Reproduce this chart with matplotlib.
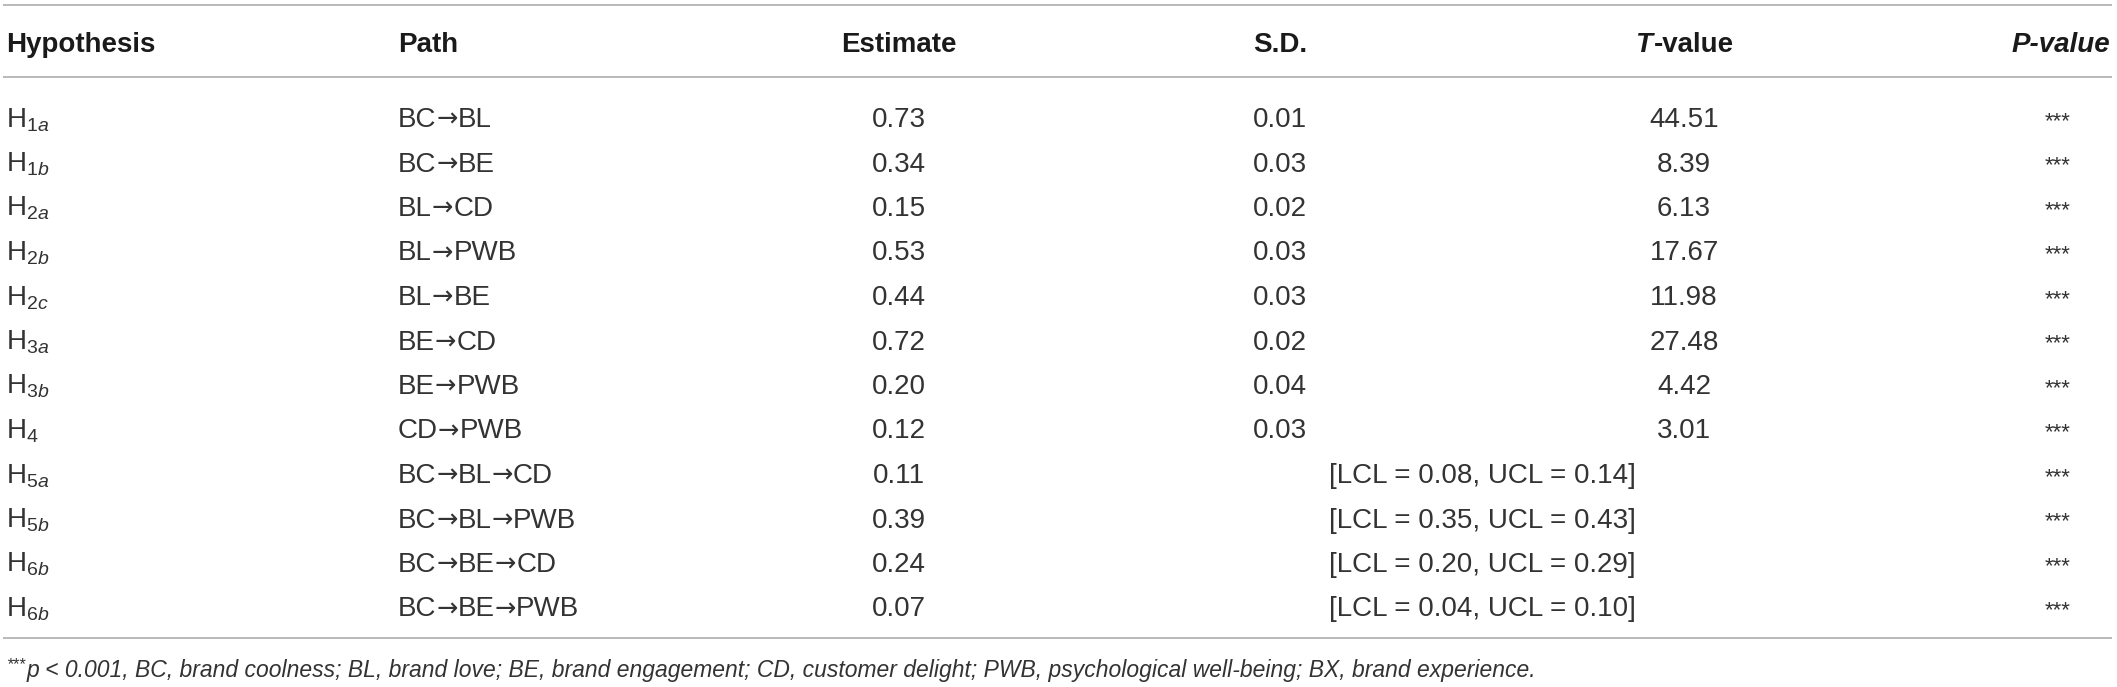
import matplotlib
matplotlib.use("Agg")
import matplotlib.pyplot as plt

# ---------------- data ----------------
hyp_num = ["1", "1", "2", "2", "2", "3", "3", "4", "5", "5", "6", "6"]
hyp_let = ["a", "b", "a", "b", "c", "a", "b", "", "a", "b", "b", "b"]
paths = ["BC→BL", "BC→BE", "BL→CD", "BL→PWB", "BL→BE", "BE→CD", "BE→PWB",
         "CD→PWB", "BC→BL→CD", "BC→BL→PWB", "BC→BE→CD", "BC→BE→PWB"]
estimates = [0.73, 0.34, 0.15, 0.53, 0.44, 0.72, 0.20, 0.12, 0.11, 0.39, 0.24, 0.07]
sds = [0.01, 0.03, 0.02, 0.03, 0.03, 0.02, 0.04, 0.03, None, None, None, None]
tvalues = [44.51, 8.39, 6.13, 17.67, 11.98, 27.48, 4.42, 3.01, None, None, None, None]
lcl = [None] * 8 + [0.08, 0.35, 0.20, 0.04]
ucl = [None] * 8 + [0.14, 0.43, 0.29, 0.10]
pvals = ["***"] * 12
headers = ["Hypothesis", "Path", "Estimate", "S.D.", "T-value", "P-value"]
footnote_mark = "***"
footnote = ("p < 0.001, BC, brand coolness; BL, brand love; BE, brand engagement; "
            "CD, customer delight; PWB, psychological well-being; BX, brand experience.")

# ---------------- style ----------------
W, H = 2117, 687
plt.rcParams["font.family"] = ["Liberation Sans", "DejaVu Sans"]
plt.rcParams["mathtext.fontset"] = "custom"
plt.rcParams["mathtext.rm"] = "Liberation Sans"
plt.rcParams["mathtext.it"] = "Liberation Sans:italic"
plt.rcParams["mathtext.bf"] = "Liberation Sans:bold"

FS = 20
FS_NOTE = 16.5
TXT = "#333333"
HDR = "#1a1a1a"
LINE = "#a6a6a6"

fig = plt.figure(figsize=(W / 100, H / 100), dpi=100)
ax = fig.add_axes([0, 0, 1, 1])
ax.set_xlim(0, W)
ax.set_ylim(H, 0)
ax.axis("off")
renderer = fig.canvas.get_renderer()


def width(t):
    return t.get_window_extent(renderer).width


# layout
x_hyp, x_path, x_est, x_sd, x_t, x_p_right, x_p_c = 6, 398, 899, 1280, 1684, 2110, 2058
y_head = 52
row0, dy = 127, 44.5
x0_line, x1_line = 3, 2112
y_lines = [5, 77, 638]

for yl in y_lines:
    ax.plot([x0_line, x1_line], [yl, yl], color=LINE, lw=1.1, solid_capstyle="butt")

# headers
hk = dict(fontsize=FS, fontweight="bold", color=HDR, va="baseline")
ax.text(x_hyp, y_head, headers[0], ha="left", **hk)
ax.text(x_path, y_head, headers[1], ha="left", **hk)
ax.text(x_est, y_head, headers[2], ha="center", **hk)
ax.text(x_sd, y_head, headers[3], ha="center", **hk)
# T-value: italic T + bold "-value", centred as a whole
tT = ax.text(0, y_head, headers[4][0], ha="left", fontstyle="italic", **hk)
tV = ax.text(0, y_head, headers[4][1:], ha="left", **hk)
wT, wV = width(tT), width(tV)
start = x_t - (wT + wV) / 2
tT.set_x(start)
tV.set_x(start + wT + 1)
ax.text(x_p_right, y_head, headers[5], ha="right", fontstyle="italic", **hk)

# rows
dk = dict(fontsize=FS, color=TXT, va="baseline")
for i in range(len(paths)):
    y = row0 + i * dy
    sub = r"\mathregular{%s}" % hyp_num[i]
    if hyp_let[i]:
        sub += r"\mathit{%s}" % hyp_let[i]
    ax.text(x_hyp, y, "H$_{%s}$" % sub, ha="left", **dk)
    # path: segments in Liberation Sans, arrows in DejaVu Sans (wider arrow)
    xc = x_path
    parts = paths[i].split("→")
    for j, seg in enumerate(parts):
        t = ax.text(xc, y, seg, ha="left", **dk)
        xc += width(t)
        if j < len(parts) - 1:
            a = ax.text(xc, y, "→", ha="left", fontsize=FS * 0.92, color=TXT,
                        va="baseline", family="DejaVu Sans")
            xc += width(a)
    ax.text(x_est, y, f"{estimates[i]:.2f}", ha="center", **dk)
    if sds[i] is not None:
        ax.text(x_sd, y, f"{sds[i]:.2f}", ha="center", **dk)
        ax.text(x_t, y, f"{tvalues[i]:.2f}", ha="center", **dk)
    else:
        ax.text((x_sd + x_t) / 2, y, f"[LCL = {lcl[i]:.2f}, UCL = {ucl[i]:.2f}]",
                ha="center", **dk)
    ax.text(x_p_c, y, pvals[i], ha="center", fontsize=FS * 0.8, color=TXT,
            va="baseline")

# footnote
y_note = 677
m = ax.text(x_hyp, y_note - 8, footnote_mark, ha="left", va="baseline",
            fontsize=FS_NOTE * 0.72, fontstyle="italic", color=TXT)
ax.text(x_hyp + width(m) + 1, y_note, footnote, ha="left", va="baseline",
        fontsize=FS_NOTE, fontstyle="italic", color=TXT)

fig.savefig("out.png", dpi=100)
